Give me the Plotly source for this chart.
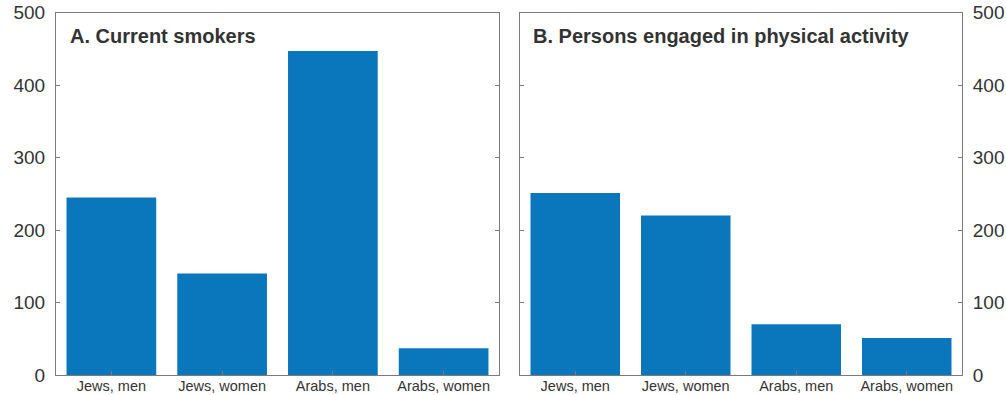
import plotly.graph_objects as go
from plotly.subplots import make_subplots

# Panel categories and values
categories = ["Jews, men", "Jews, women", "Arabs, men", "Arabs, women"]
smokers = [245, 140, 447, 37]
physical_activity = [251, 220, 70, 51]
panel_titles = ["A. Current smokers", "B. Persons engaged in physical activity"]
y_ticks = [0, 100, 200, 300, 400, 500]

W, H = 1006, 395
BAR = "#0A77BD"
TEXT = "#333333"
FRAME = "#7a7a7a"
FONT = "Liberation Sans, Arial, Helvetica, sans-serif"

fig = make_subplots(rows=1, cols=2)

for col, vals in ((1, smokers), (2, physical_activity)):
    fig.add_trace(
        go.Bar(x=categories, y=vals, marker=dict(color=BAR, line=dict(width=0)),
               showlegend=False, hoverinfo="x+y"),
        row=1, col=col,
    )

# Plot-area placement in pixels
left_px = (56, 499)
right_px = (520, 962)
top_px, bottom_px = 12.5, 375
y_dom = [(H - bottom_px) / H, (H - top_px) / H]

common_x = dict(
    showline=True, linecolor=FRAME, linewidth=1, mirror=True,
    ticks="inside", ticklen=4, tickcolor=FRAME,
    tickfont=dict(size=14.5, color=TEXT, family=FONT),
    range=[-0.5, 3.5], showgrid=False, zeroline=False, fixedrange=True,
    automargin=False, ticklabelstandoff=-2,
)
common_y = dict(
    showline=True, linecolor=FRAME, linewidth=1, mirror="ticks",
    ticks="inside", ticklen=4, tickcolor=FRAME,
    tickfont=dict(size=19, color=TEXT, family=FONT),
    range=[0, 500], tickvals=y_ticks, showgrid=False, zeroline=False,
    fixedrange=True, ticklabelstandoff=6, automargin=False,
)

fig.update_layout(
    width=W, height=H,
    margin=dict(l=0, r=0, t=0, b=0, autoexpand=False),
    paper_bgcolor="white", plot_bgcolor="white",
    bargap=0.19,
    font=dict(family=FONT, color=TEXT),
    xaxis=dict(common_x, domain=[left_px[0] / W, left_px[1] / W]),
    xaxis2=dict(common_x, domain=[right_px[0] / W, right_px[1] / W]),
    yaxis=dict(common_y, domain=y_dom, side="left"),
    yaxis2=dict(common_y, domain=y_dom, side="right"),
)

for i, title in enumerate(panel_titles):
    xr = "x domain" if i == 0 else "x2 domain"
    yr = "y domain" if i == 0 else "y2 domain"
    fig.add_annotation(
        text="<b>" + title + "</b>", xref=xr, yref=yr, x=0.026, y=0.935,
        xanchor="left", yanchor="middle", showarrow=False,
        font=dict(size=20, color=TEXT, family=FONT),
    )

fig.write_html("out.html")
